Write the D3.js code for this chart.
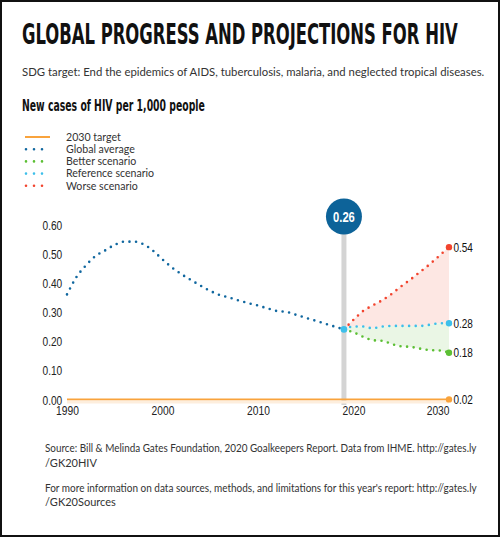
<!DOCTYPE html>
<html lang="en">
<head>
<meta charset="utf-8">
<title>Global progress and projections for HIV</title>
<script src="https://d3js.org/d3.v7.js"></script>
<style>
  body { margin: 0; background: #fff; }
  .narrow { font-family: "Liberation Sans", Arial, sans-serif; }
  .cond { font-family: "DejaVu Sans Condensed", "Liberation Sans", sans-serif; }
  .body { font-family: Lato, "Open Sans", sans-serif; fill: #333; }
</style>
</head>
<body>
<div id="chart"></div>
<script>
// data
const years = d3.range(1990, 2020);
const globalAvg = [0.362, 0.422, 0.462, 0.494, 0.513, 0.532, 0.543, 0.543, 0.534, 0.512,
                   0.482, 0.454, 0.431, 0.411, 0.392, 0.374, 0.360, 0.351, 0.341, 0.332,
                   0.324, 0.314, 0.305, 0.302, 0.292, 0.282, 0.272, 0.262, 0.252, 0.242];
const projYears = d3.range(2019, 2031);
const worse     = [0.242, 0.275, 0.305, 0.324, 0.342, 0.364, 0.390, 0.414, 0.440, 0.466, 0.495, 0.524];
const reference = [0.242, 0.252, 0.252, 0.246, 0.252, 0.254, 0.254, 0.254, 0.254, 0.258, 0.263, 0.263];
const better    = [0.242, 0.232, 0.217, 0.205, 0.203, 0.192, 0.184, 0.182, 0.176, 0.171, 0.170, 0.162];
const targetYears = [1990, 2030];
const target = [0.002, 0.002];
const endLabels = ["0.54", "0.28", "0.18", "0.02"];
const currentLabel = "0.26";
const yTicks = [0, 0.1, 0.2, 0.3, 0.4, 0.5, 0.6];
const xTicks = [1990, 2000, 2010, 2020, 2030];
const legendItems = ["2030 target", "Global average", "Better scenario", "Reference scenario", "Worse scenario"];

const colors = {
  target: "#f9a33c", global: "#10679f", better: "#5cbf34",
  reference: "#3dbfea", worse: "#f2442e", bubble: "#0d6399"
};

const svg = d3.select("#chart").append("svg")
  .attr("width", 500)
  .attr("height", 537);

svg.append("rect")
  .attr("x", 1).attr("y", 1).attr("width", 498).attr("height", 535)
  .attr("fill", "#fff").attr("stroke", "#111").attr("stroke-width", 2);

// squeeze a text horizontally to a given width, keeping its left edge
function fitWidth(t, x0, y0, width) {
  const w = t.node().getComputedTextLength();
  t.attr("x", 0).attr("y", 0)
    .attr("transform", `translate(${x0},${y0}) scale(${width / w},1)`);
}
// narrow all texts of a selection around their own anchor
function squeeze(sel, s) {
  sel.attr("transform", `scale(${s},1)`);
}

// titles
const title = svg.append("text").attr("class", "cond")
  .attr("font-size", 28).attr("font-weight", "bold").attr("fill", "#111")
  .text("GLOBAL PROGRESS AND PROJECTIONS FOR HIV");
fitWidth(title, 22, 44, 436);

const sub = svg.append("text").attr("class", "body")
  .attr("font-size", 11.5)
  .text("SDG target: End the epidemics of AIDS, tuberculosis, malaria, and neglected tropical diseases.");
fitWidth(sub, 22, 76, 463);

const head = svg.append("text").attr("class", "cond")
  .attr("font-size", 16).attr("font-weight", "bold").attr("fill", "#111")
  .text("New cases of HIV per 1,000 people");
fitWidth(head, 22, 111, 183);

// legend
const legendColors = [colors.target, colors.global, colors.better, colors.reference, colors.worse];
const legend = svg.append("g");
legendItems.forEach((name, i) => {
  const ly = 137 + i * 12.2;
  const ln = legend.append("line")
    .attr("x1", 26).attr("x2", 50).attr("y1", ly).attr("y2", ly)
    .attr("stroke", legendColors[i]);
  if (i === 0) {
    ln.attr("x1", 25).attr("stroke-width", 2);
  } else {
    ln.attr("stroke-width", 2.6).attr("stroke-linecap", "round").attr("stroke-dasharray", "0,8");
  }
  legend.append("text").attr("class", "body")
    .attr("x", 66).attr("y", ly + 3.8)
    .attr("font-size", 10.6)
    .text(name);
});

// scales
const x = d3.scaleLinear().domain([1990, 2030]).range([67, 449]);
const y = d3.scaleLinear().domain([0, 0.6]).range([400, 225]);

// axes
const yAxis = svg.append("g")
  .attr("transform", `translate(${x(1990) - 4},0)`)
  .call(d3.axisLeft(y).tickValues(yTicks).tickFormat(d3.format(".2f")).tickSize(0).tickPadding(1));
yAxis.select(".domain").remove();
yAxis.selectAll("text").attr("class", "narrow").attr("font-size", 13).attr("fill", "#222")
  .call(squeeze, 0.78);

const xAxis = svg.append("g")
  .attr("transform", `translate(0,${y(0)})`)
  .call(d3.axisBottom(x).tickValues(xTicks).tickFormat(d3.format("d")).tickSize(0).tickPadding(6));
xAxis.select(".domain").remove();
xAxis.selectAll("text").attr("class", "narrow").attr("font-size", 12.5).attr("fill", "#222")
  .call(squeeze, 0.82);
xAxis.selectAll(".tick").filter(d => d === 2030).select("text").attr("text-anchor", "end");

// scenario areas
const proj = projYears.map((yr, i) => ({yr, w: worse[i], r: reference[i], b: better[i]}));
const curve = d3.curveMonotoneX;

svg.append("path").datum(proj)
  .attr("fill", "#fde7e3")
  .attr("d", d3.area().curve(curve).x(d => x(d.yr)).y0(d => y(d.r)).y1(d => y(d.w)));
svg.append("path").datum(proj)
  .attr("fill", "#eaf6e5")
  .attr("d", d3.area().curve(curve).x(d => x(d.yr)).y0(d => y(d.b)).y1(d => y(d.r)));

// current year bar
svg.append("line")
  .attr("x1", x(2019)).attr("x2", x(2019))
  .attr("y1", 230).attr("y2", 405)
  .attr("stroke", "#d4d4d4").attr("stroke-width", 5);

// target line with its faint band underneath
svg.append("path").datum(targetYears.map((yr, i) => [yr, target[i]]))
  .attr("fill", "none").attr("stroke", "#fdeedd").attr("stroke-width", 3)
  .attr("transform", "translate(0,2.5)")
  .attr("d", d3.line().x(d => x(d[0])).y(d => y(d[1])));
svg.append("path").datum(targetYears.map((yr, i) => [yr, target[i]]))
  .attr("fill", "none").attr("stroke", colors.target).attr("stroke-width", 1.6)
  .attr("d", d3.line().x(d => x(d[0])).y(d => y(d[1])));

// dotted series
const dotted = (vals, yrs, color) => {
  svg.append("path").datum(yrs.map((yr, i) => [yr, vals[i]]))
    .attr("fill", "none").attr("stroke", color)
    .attr("stroke-width", 2.6).attr("stroke-linecap", "round")
    .attr("stroke-dasharray", "0,6.6")
    .attr("d", d3.line().curve(curve).x(d => x(d[0])).y(d => y(d[1])));
};
dotted(globalAvg, years, colors.global);
dotted(worse, projYears, colors.worse);
dotted(better, projYears, colors.better);
dotted(reference, projYears, colors.reference);

// bubble
svg.append("circle")
  .attr("cx", x(2019)).attr("cy", 216.5).attr("r", 18)
  .attr("fill", colors.bubble);
const bub = svg.append("text").attr("class", "narrow")
  .attr("text-anchor", "middle").attr("font-size", 14).attr("font-weight", "bold")
  .attr("fill", "#fff")
  .text(currentLabel);
bub.attr("transform", `translate(${x(2019)},221.5) scale(0.8,1)`);

// junction dot
svg.append("circle")
  .attr("cx", x(2019)).attr("cy", y(globalAvg[globalAvg.length - 1])).attr("r", 3.3)
  .attr("fill", colors.reference);

// end dots and labels
const ends = [
  {v: worse[worse.length - 1], c: colors.worse},
  {v: reference[reference.length - 1], c: colors.reference},
  {v: better[better.length - 1], c: colors.better},
  {v: target[target.length - 1], c: colors.target}
];
ends.forEach((e, i) => {
  svg.append("circle").attr("cx", x(2030)).attr("cy", y(e.v)).attr("r", 3.2).attr("fill", e.c);
  svg.append("text").attr("class", "narrow")
    .attr("font-size", 12.5).attr("fill", "#111")
    .attr("transform", `translate(${x(2030) + 4.5},${y(e.v) + 4.5}) scale(0.8,1)`)
    .text(endLabels[i]);
});

// source notes
const notes = [
  ["Source: Bill & Melinda Gates Foundation, 2020 Goalkeepers Report. Data from IHME. http://gates.ly", 451.5, 432],
  ["/GK20HIV", 466.5, null],
  ["For more information on data sources, methods, and limitations for this year's report: http://gates.ly", 492, 432],
  ["/GK20Sources", 505.5, null]
];
notes.forEach(n => {
  const t = svg.append("text").attr("class", "body")
    .attr("x", 45).attr("y", n[1])
    .attr("font-size", 11)
    .text(n[0]);
  if (n[2]) fitWidth(t, 45, n[1], n[2]);
});
</script>
</body>
</html>
